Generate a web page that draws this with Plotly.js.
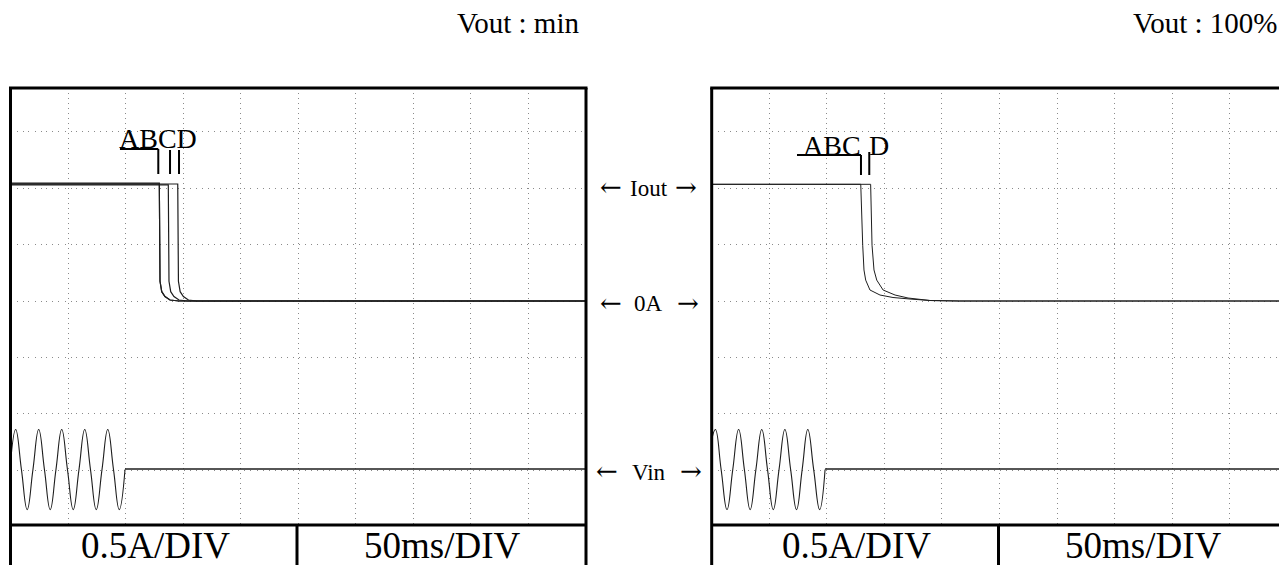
<!DOCTYPE html>
<html>
<head>
<meta charset="utf-8">
<script src="https://cdn.plot.ly/plotly-3.0.1.min.js"></script>
<style>
  html, body { margin: 0; padding: 0; background: #fff; }
  #chart { width: 1279px; height: 565px; }
</style>
</head>
<body>
<div id="chart"></div>
<script>
// Oscilloscope captures of output current after the mains input is removed.
// Time in ms (50 ms per division), amplitude in screen divisions
// (Iout: 0.5 A per division, 0 A on the centre line; Vin trace sits 3 divisions below).

// ---- Left screen: Vout : min ----
const leftABTime = [0, 129.3, 129.9, 131.4, 134.2, 138.6, 146.3, 500];
const leftATrace = [2.092, 2.092, 0.35, 0.165, 0.08, 0.018, 0, 0];
const leftBTrace = [2.075, 2.075, 0.35, 0.165, 0.08, 0.018, 0, 0];
const leftCTime  = [0, 137.1, 137.7, 139.2, 142.0, 146.4, 154.1, 500];
const leftCTrace = [2.058, 2.058, 0.35, 0.165, 0.08, 0.018, 0, 0];
const leftDTime  = [0, 145.3, 145.9, 147.4, 150.2, 154.6, 162.3, 500];
const leftDTrace = [2.075, 2.075, 0.35, 0.165, 0.08, 0.018, 0, 0];

const leftVinTime = [0, 4.5, 9.5, 14.5, 19.5, 24.5, 29.5, 34.5, 39.5, 44.5, 49.5,
                     54.5, 59.5, 64.5, 69.5, 74.5, 79.5, 84.5, 89.5, 94.5, 99.5];
const leftVinAc   = [-2.88, -2.28, -2.99, -3.70, -2.99, -2.28, -2.99, -3.70, -2.99, -2.28, -2.99,
                     -3.70, -2.99, -2.28, -2.99, -3.70, -2.99, -2.28, -2.99, -3.70, -2.99];
const leftVinOffTime = [99.5, 500];
const leftVinOff     = [-2.98, -2.98];

// ---- Right screen: Vout : 100% ----
const rightABCTime  = [0, 129.5, 131.2, 132.3, 133.8, 137.5, 146.2, 157.5, 172.3, 189.6, 215, 493];
const rightABCTrace = [2.07, 2.07, 0.99, 0.55, 0.37, 0.195, 0.106, 0.062, 0.035, 0.009, 0, 0];
const rightDTime    = [0, 138.1, 139.3, 141.0, 143.4, 148.9, 159.3, 170.6, 189.6, 215, 493];
const rightDTrace   = [2.07, 2.07, 0.99, 0.55, 0.37, 0.195, 0.106, 0.053, 0.009, 0, 0];

const rightVinTime = [0, 3.2, 8.2, 13.3, 18.3, 23.4, 28.4, 33.4, 38.4, 43.5, 48.5,
                      53.5, 58.5, 63.6, 68.6, 73.7, 78.6, 83.5, 88.6, 93.8, 98.5];
const rightVinAc   = [-2.47, -2.28, -2.99, -3.70, -2.99, -2.28, -2.99, -3.70, -2.99, -2.28, -2.99,
                      -3.70, -2.99, -2.28, -2.99, -3.70, -2.99, -2.28, -2.99, -3.70, -2.99];
const rightVinOffTime = [98.5, 493];
const rightVinOff     = [-2.98, -2.98];

// ---- Text ----
const screenTitles = ['Vout : min', 'Vout : 100%'];
const scaleLabels  = ['0.5A/DIV', '50ms/DIV'];
const channelNames = ['Iout', '0A', 'Vin'];

// ---- Page geometry ----
const W = 1279, H = 565, TOP = 88, BOT = 525;
const px = v => v / W;                      // pixel column -> paper x
const py = v => (BOT - v) / (BOT - TOP);    // pixel row -> paper y
const SERIF = 'Liberation Serif, Times New Roman, serif';
const INK = '#1e1e1e';

function trace(x, y, xa, ya, width, shape) {
  return {
    x: x, y: y, xaxis: xa, yaxis: ya, type: 'scatter', mode: 'lines',
    line: { color: INK, width: width, shape: shape || 'linear', smoothing: 1.3 },
    hoverinfo: 'skip'
  };
}

const data = [
  trace(leftABTime, leftATrace, 'x', 'y', 1.2),
  trace(leftABTime, leftBTrace, 'x', 'y', 1.2),
  trace(leftCTime, leftCTrace, 'x', 'y', 1.2),
  trace(leftDTime, leftDTrace, 'x', 'y', 1.2),
  trace(leftVinTime, leftVinAc, 'x', 'y', 1.1, 'spline'),
  trace(leftVinOffTime, leftVinOff, 'x', 'y', 1.7),
  trace(rightABCTime, rightABCTrace, 'x2', 'y2', 1),
  trace(rightDTime, rightDTrace, 'x2', 'y2', 1),
  trace(rightVinTime, rightVinAc, 'x2', 'y2', 1.1, 'spline'),
  trace(rightVinOffTime, rightVinOff, 'x2', 'y2', 1.7)
];

function xAxis(domain, range) {
  return {
    domain: domain, range: range, dtick: 50, tick0: 0,
    showgrid: true, gridcolor: '#8a8a8a', gridwidth: 1, griddash: '1px,4px',
    zeroline: false, showline: false, showticklabels: false, ticks: '',
    fixedrange: true
  };
}
function yAxis(anchor) {
  return {
    anchor: anchor, domain: [0, 1], range: [-3.973, 3.778], dtick: 1, tick0: 0,
    showgrid: true, gridcolor: '#8a8a8a', gridwidth: 1, griddash: '1px,5px',
    zeroline: false, showline: false, showticklabels: false, ticks: '',
    fixedrange: true
  };
}

const LX0 = 10.5, LX1 = 586, LDIV = 297;
const RX0 = 711.7, RDIV = 998.5;
const FRAME = { color: '#000', width: 3 };

function pline(x0, y0, x1, y1, line) {
  return { type: 'line', xref: 'paper', yref: 'paper',
           x0: px(x0), y0: py(y0), x1: px(x1), y1: py(y1), line: line || FRAME, layer: 'above' };
}
function dline(xa, ya, x0, y0, x1, y1) {
  return { type: 'line', xref: xa, yref: ya, x0: x0, y0: y0, x1: x1, y1: y1,
           line: { color: '#000', width: 2 }, layer: 'above' };
}

const shapes = [
  // left screen frame and scale box
  pline(LX0 - 1.5, TOP, LX1 + 1.5, TOP),
  pline(LX0, TOP, LX0, H + 5),
  pline(LX1, TOP, LX1, H + 5),
  pline(LX0, BOT, LX1, BOT),
  pline(LDIV, BOT, LDIV, H + 5),
  // right screen frame and scale box (right edge runs off the page)
  pline(RX0 - 1.5, TOP, W + 5, TOP),
  pline(RX0, TOP, RX0, H + 5),
  pline(RX0, BOT, W + 5, BOT),
  pline(RDIV, BOT, RDIV, H + 5),
  // A-B-C-D leader lines, left
  dline('x', 'y', 95.1, 2.696, 128.4, 2.696),
  dline('x', 'y', 128.4, 2.696, 128.4, 2.253),
  dline('x', 'y', 138.6, 2.678, 138.6, 2.253),
  dline('x', 'y', 146.4, 2.678, 146.4, 2.253),
  // A-B-C / D leader lines, right
  dline('x2', 'y2', 74.1, 2.59, 129.7, 2.59),
  dline('x2', 'y2', 129.7, 2.59, 129.7, 2.235),
  dline('x2', 'y2', 136.9, 2.643, 136.9, 2.235)
];

function note(text, x, y, size, xanchor, family) {
  return { text: text, xref: 'paper', yref: 'paper', x: x, y: y,
           xanchor: xanchor || 'center', yanchor: 'middle', showarrow: false,
           font: { family: family || SERIF, size: size, color: '#000' } };
}

// channel markers between the two screens: name with an arrow on each side
const ARROW_FONT = 'DejaVu Serif, serif';
const markerRows = [
  { name: channelNames[0], y: 188,   textX: 649,   leftX: 611,   rightX: 686   },
  { name: channelNames[1], y: 303.9, textX: 648.5, leftX: 610.5, rightX: 687.5 },
  { name: channelNames[2], y: 472,   textX: 648.5, leftX: 606.5, rightX: 691   }
];

const annotations = [
  note(screenTitles[0], px(581), py(23.4), 29, 'right'),
  note(screenTitles[1], px(1279), py(23.4), 29, 'right'),
  note(scaleLabels[0], px(155), py(545.6), 37),
  note(scaleLabels[1], px(442), py(545.6), 37),
  note(scaleLabels[0], px(856.2), py(545.6), 37),
  note(scaleLabels[1], px(1143.7), py(545.6), 37),
  note('ABCD', px(158), py(138.8), 28),
  note('ABC', px(832), py(145.5), 28),
  note('D', px(878.5), py(145.5), 28)
];
markerRows.forEach(r => {
  annotations.push(note(r.name, px(r.textX), py(r.y), 23));
  annotations.push(note('←', px(r.leftX), py(r.y - 1), 26, 'center', ARROW_FONT));
  annotations.push(note('→', px(r.rightX), py(r.y - 1), 26, 'center', ARROW_FONT));
});

const layout = {
  width: W, height: H,
  margin: { l: 0, r: 0, t: TOP, b: H - BOT, pad: 0 },
  paper_bgcolor: '#fff', plot_bgcolor: '#fff',
  showlegend: false,
  xaxis: xAxis([px(LX0), px(LX1)], [0, 500]),
  yaxis: yAxis('x'),
  xaxis2: xAxis([px(RX0), 1], [0, (W - RX0) / 57.55 * 50]),
  yaxis2: yAxis('x2'),
  shapes: shapes,
  annotations: annotations
};

Plotly.newPlot('chart', data, layout, { staticPlot: true, displayModeBar: false });
</script>
</body>
</html>
